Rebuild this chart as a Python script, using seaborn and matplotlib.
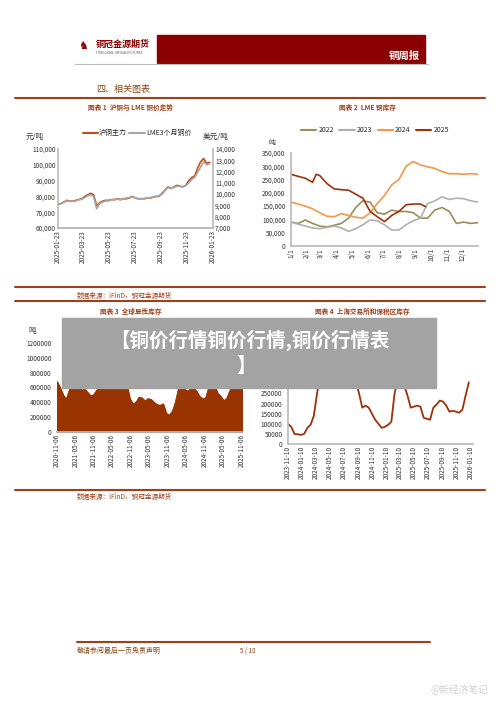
import matplotlib
matplotlib.use("Agg")
import matplotlib.pyplot as plt
import seaborn as sns
import pandas as pd
import numpy as np
from matplotlib.patches import Rectangle
from matplotlib.lines import Line2D

sns.set_theme(style="white")
plt.rcParams['font.family'] = ['Noto Sans CJK SC', 'DejaVu Sans']

# ---- chart 1 data (weekly) ----
c1_start = "2025-01-23"
shfe = [75000,75500,76500,77500,77000,77000,77500,78000,78500,80000,81000,82000,81000,74000,
        76000,77000,77500,77500,78000,78000,78500,78000,78500,78500,79000,80000,79000,78500,
        78500,78500,79000,79000,79500,80000,80000,82000,84000,86000,85000,86000,87000,86500,
        86000,87000,90000,92000,93000,98000,102000,104000,101000,101500]
lme = [9100,9150,9300,9400,9350,9350,9400,9500,9550,9700,9850,9950,9800,8700,
       9150,9300,9400,9400,9500,9500,9550,9500,9600,9650,9700,9750,9650,9600,
       9600,9600,9650,9700,9750,9800,9850,10000,10300,10600,10500,10600,10700,10700,
       10650,10750,11000,11300,11500,11950,12400,12900,12600,12700]
c1_ticks = ["2025-01-23","2025-03-23","2025-05-23","2025-07-23","2025-09-23","2025-11-23","2026-01-23"]

# ---- chart 2 data (thousand tonnes, by day of year) ----
doy = [1,15,29,43,57,71,85,99,113,127,141,155,169,183,197,211,225,239,253,267,281,295,309,323,337,351,365]
inv2022 = [90,85,98,85,75,72,78,85,105,145,170,165,125,120,135,130,130,125,105,105,135,145,130,85,90,85,88]
inv2023 = [90,82,75,68,65,70,75,68,55,65,80,98,95,80,60,60,80,95,105,160,170,185,175,180,178,170,165]
inv2024 = [165,158,150,140,125,112,110,122,115,108,105,125,160,190,230,250,300,318,305,298,292,280,272,272,270,272,270]
doy2025 = [1,15,29,43,50,57,71,85,99,113,127,141,155,169,183,197,211,225,239,253,263]
inv2025 = [270,262,255,240,270,265,235,215,212,210,195,180,130,110,92,115,130,155,158,158,148]
month_ticks = [1,32,60,91,121,152,182,213,244,274,305,335]
month_labels = ["1/1","2/1","3/1","4/1","5/1","6/1","7/1","8/1","9/1","10/1","11/1","12/1"]

# ---- chart 3 data (monthly, thousand tonnes) ----
c3_start = "2020-11-06"
glob_inv = [680,600,500,440,560,800,780,700,560,580,540,490,500,560,620,650,750,700,720,680,
            660,650,630,640,450,380,400,470,460,420,450,440,400,370,360,380,250,230,280,400,
            580,620,580,550,580,600,550,480,450,460,600,680,620,520,480,420,460,560,640,620,650,750]
c3_ticks = ["2020-11-06","2021-05-06","2021-11-06","2022-05-06","2022-11-06","2023-05-06",
            "2023-11-06","2024-05-06","2024-11-06","2025-05-06","2025-11-06"]

# ---- chart 4 data (biweekly, thousand tonnes) ----
c4_start = "2023-11-10"
sh_inv = [100,85,50,48,45,50,80,95,140,250,350,440,460,470,445,440,450,410,390,360,340,310,250,180,
          190,180,150,120,100,80,85,95,110,250,320,315,290,240,180,185,190,185,130,125,120,180,195,
          215,210,190,160,165,160,155,170,240,305]
c4_ticks = ["2023-11-10","2024-01-10","2024-03-10","2024-05-10","2024-07-10","2024-09-10",
            "2024-11-10","2025-01-10","2025-03-10","2025-05-10","2025-07-10","2025-09-10",
            "2025-11-10","2026-01-10"]

W, H = 500, 707
fig = plt.figure(figsize=(5, 7.07), dpi=100)
fig.patch.set_facecolor("white")
RED = "#8B0000"; BR = "#A0401A"; TXT = "#333333"

def ax_at(x0, y0, x1, y1):
    return fig.add_axes([x0/W, 1-y1/H, (x1-x0)/W, (y1-y0)/H])

def hline(y, x0, x1, color=BR, lw=1.5):
    fig.add_artist(Line2D([x0/W, x1/W], [1-y/H, 1-y/H], color=color, lw=lw))

def ftext(x, y, s, **kw):
    fig.text(x/W, 1-y/H, s, **kw)

def style(ax, left=True):
    ax.set_xlabel(""); ax.set_ylabel("")
    ax.tick_params(labelsize=4.6, colors=TXT, length=0, pad=1.5)
    for s in ax.spines.values(): s.set_visible(False)
    ax.spines["bottom"].set_visible(True); ax.spines["bottom"].set_color("#bbbbbb")
    if left:
        ax.spines["left"].set_visible(True); ax.spines["left"].set_color("#bbbbbb")

# header
fig.add_artist(Rectangle((157/W, 1-63/H), 268/W, 28/H, color=RED))
hline(63.5, 75, 428, color="#bbbbbb", lw=0.8)
ftext(420, 56, "铜周报", color="white", fontsize=7.5, ha="right", va="center", fontweight="bold")
ftext(96, 44, "铜冠金源期货", color=RED, fontsize=6.5, va="center", fontweight="bold")
ftext(96, 53, "TONGGUAN JINYUAN FUTURES", color="#555555", fontsize=2.3, va="center")
ftext(78, 46, "♞", color=RED, fontsize=8, va="center")
ftext(96, 89, "四、相关图表", color="#8B4513", fontsize=6.5, va="center")
hline(98, 15, 485)
ftext(88, 107, "图表 1  沪铜与 LME 铜价走势", color=BR, fontsize=4.8, va="center", fontweight="bold")
ftext(339, 107, "图表 2  LME 铜库存", color=BR, fontsize=4.8, va="center", fontweight="bold")
hline(287, 15, 250); hline(287, 250, 485)
ftext(77, 296, "数据来源：iFinD，铜冠金源期货", color=BR, fontsize=4.8, va="center")
hline(301, 15, 485)
ftext(100, 311, "图表 3  全球显性库存", color=BR, fontsize=4.8, va="center", fontweight="bold")
ftext(315, 311, "图表 4  上海交易所和保税区库存", color=BR, fontsize=4.8, va="center", fontweight="bold")
hline(490, 15, 485)
ftext(77, 497, "数据来源：iFinD，铜冠金源期货", color=BR, fontsize=4.8, va="center")
hline(642, 77, 430, lw=1.5)
ftext(77, 651, "敬请参阅最后一页免责声明", color="#8B4513", fontsize=5, va="center", style="italic")
ftext(240, 651, "5 / 10", color="#8B4513", fontsize=4.5, va="center")
ftext(488, 690, "@新经济笔记", color="#d0d0d0", fontsize=7, va="center", ha="right")

# chart 1
d1 = pd.DataFrame({"date": pd.date_range(c1_start, periods=len(shfe), freq="7D"), "shfe": shfe, "lme": lme})
ax1 = ax_at(58, 149, 213, 228)
sns.lineplot(data=d1, x="date", y="shfe", ax=ax1, color="#C0501A", lw=1.2)
ax1.set_ylim(60000, 110000); ax1.set_yticks(range(60000, 110001, 10000))
ax1.set_yticklabels([f"{v:,}" for v in range(60000, 110001, 10000)])
ax1b = ax1.twinx()
sns.lineplot(data=d1, x="date", y="lme", ax=ax1b, color="#A6A6A6", lw=1.2)
ax1b.set_ylim(7000, 14000); ax1b.set_yticks(range(7000, 14001, 1000))
ax1b.set_yticklabels([f"{v:,}" for v in range(7000, 14001, 1000)])
ax1.set_xlim(pd.Timestamp(c1_ticks[0]), pd.Timestamp(c1_ticks[-1]))
ax1.set_xticks(pd.to_datetime(c1_ticks)); ax1.set_xticklabels(c1_ticks, rotation=90)
style(ax1); style(ax1b, left=False)
ax1b.spines["right"].set_visible(True); ax1b.spines["right"].set_color("#bbbbbb")
ftext(26, 137, "元/吨", fontsize=5.5, color=TXT, va="center")
ftext(203, 137, "美元/吨", fontsize=5.5, color=TXT, va="center")
fig.legend(handles=[Line2D([], [], color="#C0501A", lw=1.5, label="沪铜主力"),
                    Line2D([], [], color="#A6A6A6", lw=1.5, label="LME3个月铜价")],
           loc="center", bbox_to_anchor=(137/W, 1-133/H), ncol=2, frameon=False, fontsize=5,
           handlelength=2.2, columnspacing=0.3, handletextpad=0.2)

# chart 2
ax2 = ax_at(291, 153, 478, 246)
cols2 = [("#9C8D55", "2022"), ("#B0B0B0", "2023"), ("#F79646", "2024"), ("#A0300A", "2025")]
for (xs, ys), (c, lab) in zip([(doy, inv2022), (doy, inv2023), (doy, inv2024), (doy2025, inv2025)], cols2):
    sns.lineplot(x=xs, y=[v*1000 for v in ys], ax=ax2, color=c, lw=1.2, legend=False)
ax2.set_xlim(1, 365); ax2.set_ylim(0, 350000)
ax2.set_xticks(month_ticks); ax2.set_xticklabels(month_labels, rotation=90)
ax2.set_yticks(range(0, 350001, 50000))
ax2.set_yticklabels(["0"] + [f"{v:,}" for v in range(50000, 350001, 50000)])
style(ax2)
ax2.tick_params(axis="y", pad=4)
ftext(268, 143, "吨", fontsize=5, color=TXT, va="center")
fig.legend(handles=[Line2D([], [], color=c, lw=1.5, label=l) for c, l in cols2],
           loc="center", bbox_to_anchor=(375/W, 1-130/H), ncol=4, frameon=False, fontsize=5,
           handlelength=2.2, columnspacing=0.8, handletextpad=0.3)

# chart 3
d3 = pd.DataFrame({"date": pd.date_range(c3_start, periods=len(glob_inv), freq="30D"), "v": [v*1000 for v in glob_inv]})
ax3 = ax_at(57, 343, 242, 432)
sns.lineplot(data=d3, x="date", y="v", ax=ax3, color="#993300", lw=0.5)
ax3.fill_between(d3["date"], d3["v"], color="#993300")
ax3.set_ylim(0, 1200000); ax3.set_yticks(range(0, 1200001, 200000))
ax3.set_yticklabels([str(v) for v in range(0, 1200001, 200000)])
ax3.set_xlim(pd.Timestamp(c3_ticks[0]), d3["date"].iloc[-1])
ax3.set_xticks(pd.to_datetime(c3_ticks)); ax3.set_xticklabels(c3_ticks, rotation=90)
style(ax3, left=False)
ax3.tick_params(axis="y", pad=4)
ftext(28, 331, "吨", fontsize=5.5, color=TXT, va="center")

# chart 4
d4 = pd.DataFrame({"date": pd.date_range(c4_start, periods=len(sh_inv), freq="14D"), "v": [v*1000 for v in sh_inv]})
ax4 = ax_at(288, 343, 473, 444)
sns.lineplot(data=d4, x="date", y="v", ax=ax4, color="#A0300A", lw=1.3)
ax4.set_ylim(0, 500000); ax4.set_yticks(range(0, 500001, 50000))
ax4.set_yticklabels([str(v) for v in range(0, 500001, 50000)])
ax4.set_xlim(pd.Timestamp(c4_ticks[0]), pd.Timestamp("2026-01-20"))
ax4.set_xticks(pd.to_datetime(c4_ticks)); ax4.set_xticklabels(c4_ticks, rotation=90)
style(ax4)
ax4.tick_params(axis="y", pad=4)

# overlay banner
fig.add_artist(Rectangle((62/W, 1-388/H), 374/W, 70/H, color="#A3A3A3", zorder=10))
ftext(250, 340, "【铜价行情铜价行情,铜价行情表", fontsize=14, color="white", fontweight="bold",
      ha="center", va="center", zorder=11)
ftext(246, 366, "】", fontsize=14, color="white", fontweight="bold", ha="center", va="center", zorder=11)

fig.savefig("out.png", dpi=100)
